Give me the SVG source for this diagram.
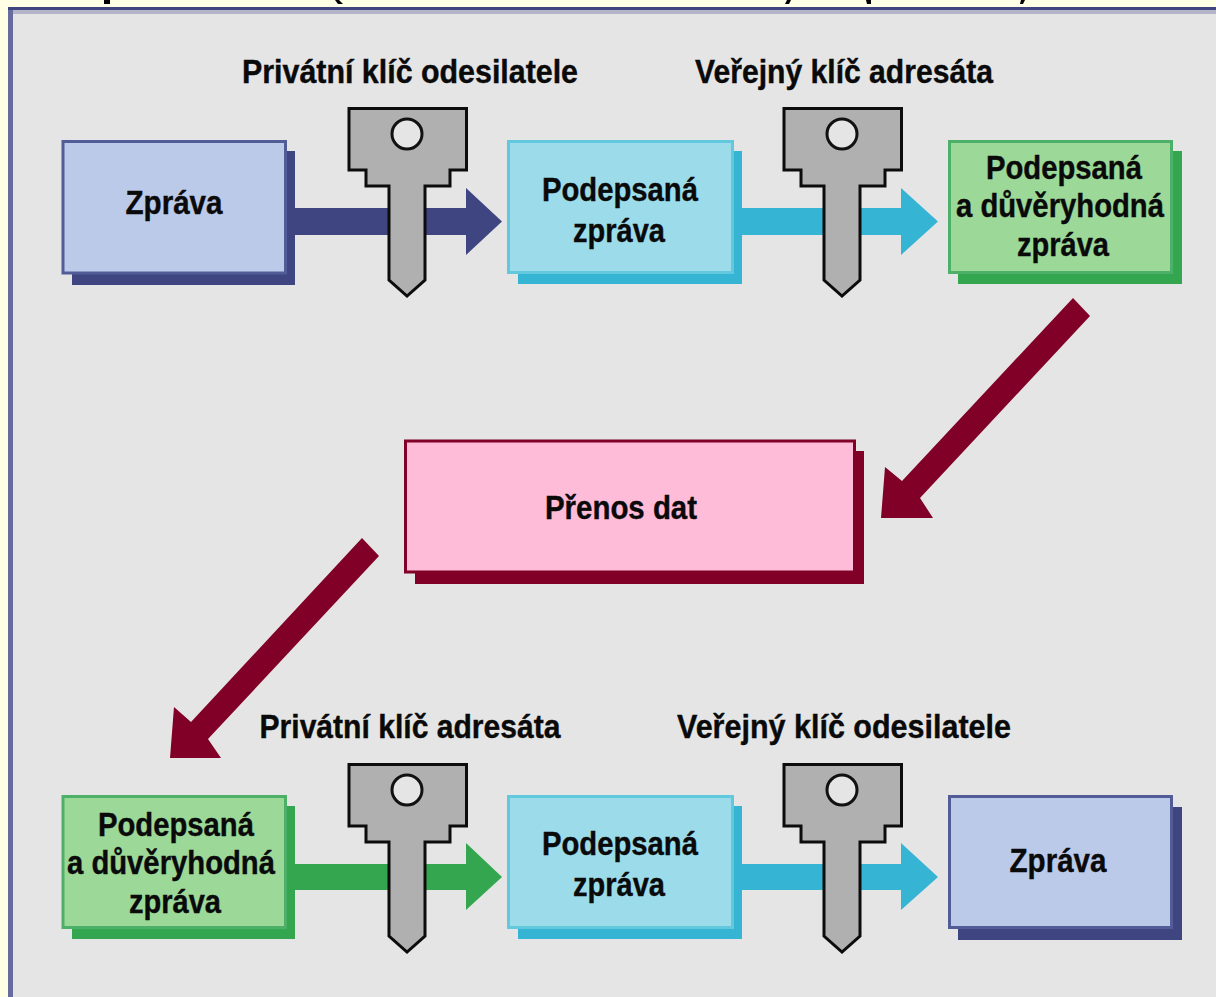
<svg xmlns="http://www.w3.org/2000/svg" width="1216" height="997" viewBox="0 0 1216 997">
<style>
.t{font-family:"Liberation Sans Narrow","Liberation Sans",Arial,sans-serif;font-weight:700;font-size:33px;fill:#0a0a0a;text-anchor:middle;stroke:#0a0a0a;stroke-width:.4px}
.key{fill:#b0b0b0;stroke:#0c0c0c;stroke-width:3}
.hole{fill:#e5e5e5;stroke:#111;stroke-width:3}
.blue{fill:#bccaea;stroke:#525c96;stroke-width:3}.blues{fill:#3f4580}
.cyan{fill:#9cdcea;stroke:#62c8de;stroke-width:3}.cyans{fill:#35b4d4}
.green{fill:#9cd898;stroke:#4cb068;stroke-width:3}.greens{fill:#34a650}
.pink{fill:#ffbcd8;stroke:#800028;stroke-width:3}.pinks{fill:#800028}
</style>
<defs>
<g id="k"><path class="key" d="M349 108.500H466.500V170H450V186H425V280L407 296L389 280V186H366V170H349Z"/><circle class="hole" cx="407" cy="134" r="15"/></g>
</defs>
<rect width="1216" height="997" fill="#ffffe5"/>
<rect x="10" y="8" width="1206" height="989" fill="#e5e5e5"/>
<rect x="8" y="7" width="5" height="990" fill="#666c9e"/>
<rect x="8" y="7" width="1208" height="3" fill="#3f4580"/>
<rect x="13" y="10" width="1203" height="4" fill="#b4b5c8"/>
<g id="title-fragments" fill="#000">
<rect x="104" y="0" width="6" height="4"/><path d="M335 0h4l4 4h-5zM787 0h4l-2 4h-4zM866 0h5v4h-4zM1021 0h4l-2 4h-3z"/>
</g>
<g id="connectors">
<path class="blues" d="M295 208H466V188L502 221.500L466 255V235H295Z"/>
<path fill="#34a650" d="M295 864H466V843L502 877L466 910V890H295Z"/>
<g fill="#35b4d4"><path d="M742 208H901V188L938 221.500L901 255V235H742Z"/><path d="M742 864H901V843L938 877L901 910V890H742Z"/></g>
<g fill="#800028"><path d="M1073 298L1090 316L920 498L933 518H881L885 467L902 481Z"/><path d="M362 538L379 556L208 739L221 758H170L174 707L191 722Z"/></g>
</g>
<g id="zprava1"><rect class="blues" x="72" y="151" width="223" height="134"/><rect class="blue" x="63" y="141.500" width="222.500" height="131.500"/><text class="t" x="174" y="214" textLength="97" lengthAdjust="spacingAndGlyphs">Zpráva</text></g>
<g id="podepsana1"><rect class="cyans" x="518" y="151" width="224" height="133"/><rect class="cyan" x="508.500" y="141.500" width="224" height="131"/><text class="t" x="620" y="201" textLength="156" lengthAdjust="spacingAndGlyphs">Podepsaná</text><text class="t" x="619" y="242" textLength="92" lengthAdjust="spacingAndGlyphs">zpráva</text></g>
<g id="duveryhodna1"><rect class="greens" x="958" y="151" width="224" height="133"/><rect class="green" x="949.500" y="141.500" width="222" height="131"/><text class="t" x="1064" y="179" textLength="156" lengthAdjust="spacingAndGlyphs">Podepsaná</text><text class="t" x="1060" y="217" textLength="208" lengthAdjust="spacingAndGlyphs">a důvěryhodná</text><text class="t" x="1063" y="256" textLength="92" lengthAdjust="spacingAndGlyphs">zpráva</text></g>
<g id="prenos"><rect class="pinks" x="415" y="451" width="449" height="133"/><rect class="pink" x="405.500" y="441" width="449" height="131"/><text class="t" x="621" y="519" textLength="152" lengthAdjust="spacingAndGlyphs">Přenos dat</text></g>
<g id="duveryhodna2"><rect class="greens" x="72" y="806" width="223" height="133"/><rect class="green" x="63" y="796.500" width="222.500" height="131"/><text class="t" x="176" y="836" textLength="156" lengthAdjust="spacingAndGlyphs">Podepsaná</text><text class="t" x="171" y="874" textLength="208" lengthAdjust="spacingAndGlyphs">a důvěryhodná</text><text class="t" x="175" y="913" textLength="92" lengthAdjust="spacingAndGlyphs">zpráva</text></g>
<g id="podepsana2"><rect class="cyans" x="518" y="806" width="224" height="133"/><rect class="cyan" x="508.500" y="796.500" width="224" height="131"/><text class="t" x="620" y="855" textLength="156" lengthAdjust="spacingAndGlyphs">Podepsaná</text><text class="t" x="619" y="896" textLength="92" lengthAdjust="spacingAndGlyphs">zpráva</text></g>
<g id="zprava2"><rect class="blues" x="958" y="807" width="224" height="133"/><rect class="blue" x="949.500" y="796.500" width="222" height="131"/><text class="t" x="1058" y="872" textLength="97" lengthAdjust="spacingAndGlyphs">Zpráva</text></g>
<g id="key1"><use href="#k"/></g>
<g id="key2"><use href="#k" x="435"/></g>
<g id="key3"><use href="#k" y="656"/></g>
<g id="key4"><use href="#k" x="435" y="656"/></g>
<g id="labels">
<text class="t" x="410" y="83" textLength="336" lengthAdjust="spacingAndGlyphs">Privátní klíč odesilatele</text>
<text class="t" x="844" y="83" textLength="298" lengthAdjust="spacingAndGlyphs">Veřejný klíč adresáta</text>
<text class="t" x="410" y="738" textLength="301" lengthAdjust="spacingAndGlyphs">Privátní klíč adresáta</text>
<text class="t" x="844" y="738" textLength="334" lengthAdjust="spacingAndGlyphs">Veřejný klíč odesilatele</text>
</g>
</svg>
